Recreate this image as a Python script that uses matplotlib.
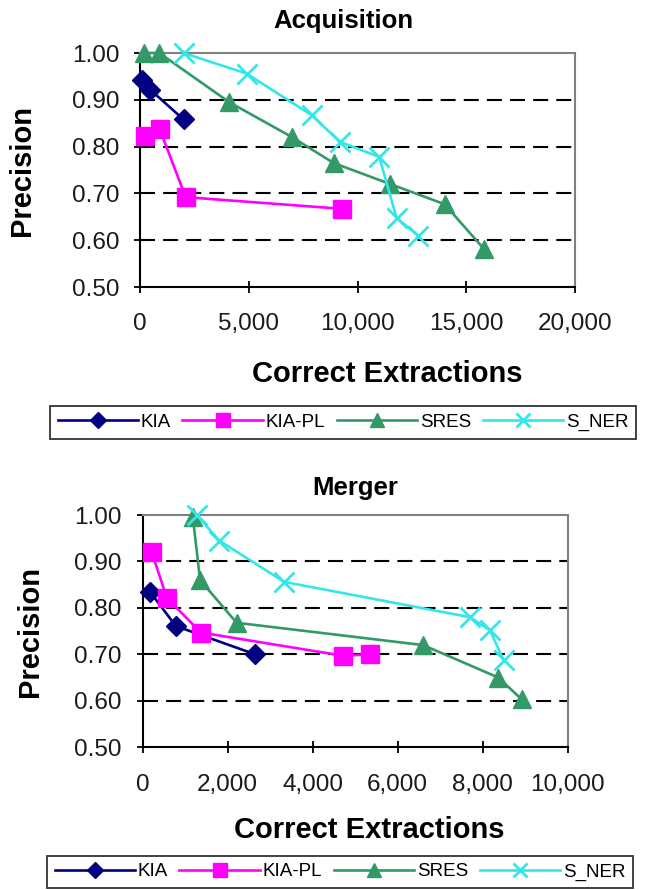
import matplotlib
matplotlib.use("Agg")
import matplotlib.pyplot as plt
from matplotlib.ticker import FixedLocator

plt.rcParams['font.family'] = ['Liberation Sans', 'DejaVu Sans']

# ---- data ----
series_names = ["KIA", "KIA-PL", "SRES", "S_NER"]

acq_kia_x = [100, 460, 2000]
acq_kia_y = [0.942, 0.922, 0.858]
acq_kiapl_x = [230, 900, 2100, 9300]
acq_kiapl_y = [0.822, 0.838, 0.692, 0.667]
acq_sres_x = [200, 890, 4100, 7000, 8900, 11500, 14000, 15800]
acq_sres_y = [1.0, 1.0, 0.895, 0.82, 0.765, 0.72, 0.677, 0.582]
acq_sner_x = [2000, 4900, 7900, 9200, 11000, 11800, 12800]
acq_sner_y = [1.0, 0.956, 0.867, 0.81, 0.778, 0.647, 0.61]

mer_kia_x = [170, 780, 2650]
mer_kia_y = [0.835, 0.761, 0.70]
mer_kiapl_x = [210, 570, 1370, 4720, 5350]
mer_kiapl_y = [0.921, 0.821, 0.747, 0.697, 0.70]
mer_sres_x = [1180, 1350, 2210, 6600, 8370, 8920]
mer_sres_y = [0.995, 0.86, 0.768, 0.72, 0.65, 0.603]
mer_sner_x = [1270, 1800, 3330, 7700, 8170, 8490]
mer_sner_y = [1.0, 0.945, 0.856, 0.78, 0.752, 0.688]

y_ticks = [0.50, 0.60, 0.70, 0.80, 0.90, 1.00]
y_ticklabels = ["0.50", "0.60", "0.70", "0.80", "0.90", "1.00"]
grid_levels = [0.60, 0.70, 0.80, 0.90]
acq_xticks = [0, 5000, 10000, 15000, 20000]
acq_xticklabels = ["0", "5,000", "10,000", "15,000", "20,000"]
mer_xticks = [0, 2000, 4000, 6000, 8000, 10000]
mer_xticklabels = ["0", "2,000", "4,000", "6,000", "8,000", "10,000"]

styles = [
    dict(color="#000080", marker="D", ms=10.5),
    dict(color="#FF00FF", marker="s", ms=13),
    dict(color="#339966", marker="^", ms=13),
    dict(color="#33E6EA", marker="x", ms=14, mew=2),
]

fig = plt.figure(figsize=(6.46, 8.90), dpi=100)
W, H = 646.0, 890.0


def make_panel(rect, xs, ys, xticks, xticklabels, xmax, title, title_x, title_base,
               xlabel_base, xlabel_x, ylabel_x, leg_center):
    ax = fig.add_axes(rect)
    handles = []
    for x, y, st in zip(xs, ys, styles):
        h, = ax.plot(x, y, lw=1.9, clip_on=False, zorder=3, **st)
        handles.append(h)
    for g in grid_levels:
        ax.axhline(g, color="black", lw=1.5, ls=(0, (7.2, 3.9)), zorder=1)
    ax.set_xlim(0, xmax)
    ax.set_ylim(0.5, 1.0)
    ax.xaxis.set_major_locator(FixedLocator(xticks))
    ax.set_xticklabels(xticklabels)
    ax.yaxis.set_major_locator(FixedLocator(y_ticks))
    ax.set_yticklabels(y_ticklabels)
    ax.tick_params(direction="inout", length=8, width=1.3, labelsize=17.5,
                   colors="black", labelcolor="#1a1a1a")
    ax.tick_params(axis="x", pad=15)
    ax.tick_params(axis="y", pad=11)
    for s in ("top", "right"):
        ax.spines[s].set_color("#808080")
        ax.spines[s].set_linewidth(1.5)
    for s in ("left", "bottom"):
        ax.spines[s].set_color("black")
        ax.spines[s].set_linewidth(1.5)
    fig.text(title_x / W, 1 - title_base / H, title, ha="center", va="baseline",
             fontsize=18.5, fontweight="bold")
    fig.text(xlabel_x / W, 1 - xlabel_base / H, "Correct Extractions", ha="center",
             va="baseline", fontsize=21, fontweight="bold")
    cy = rect[1] + rect[3] / 2
    fig.text(ylabel_x / W, cy, "Precision", ha="center", va="center", rotation=90,
             fontsize=21, fontweight="bold")
    leg = fig.legend(handles, series_names, loc="center",
                     bbox_to_anchor=(leg_center[0] / W, 1 - leg_center[1] / H),
                     ncol=4, fontsize=13.5, handlelength=4.3, handletextpad=0.15,
                     columnspacing=0.6, borderpad=0.4, frameon=True, fancybox=False,
                     markerscale=0.75)
    leg.get_frame().set_edgecolor("black")
    leg.get_frame().set_linewidth(1.3)
    return ax


make_panel([140 / W, 1 - 287 / H, 435 / W, 234 / H],
           [acq_kia_x, acq_kiapl_x, acq_sres_x, acq_sner_x],
           [acq_kia_y, acq_kiapl_y, acq_sres_y, acq_sner_y],
           acq_xticks, acq_xticklabels, 20000, "Acquisition", 343, 28,
           382, 387, 22, (343, 422.5))

make_panel([142.7 / W, 1 - 747.3 / H, 425 / W, 232.3 / H],
           [mer_kia_x, mer_kiapl_x, mer_sres_x, mer_sner_x],
           [mer_kia_y, mer_kiapl_y, mer_sres_y, mer_sner_y],
           mer_xticks, mer_xticklabels, 10000, "Merger", 355, 495,
           838, 369, 30, (340, 872))

fig.savefig("out.png", dpi=100)
